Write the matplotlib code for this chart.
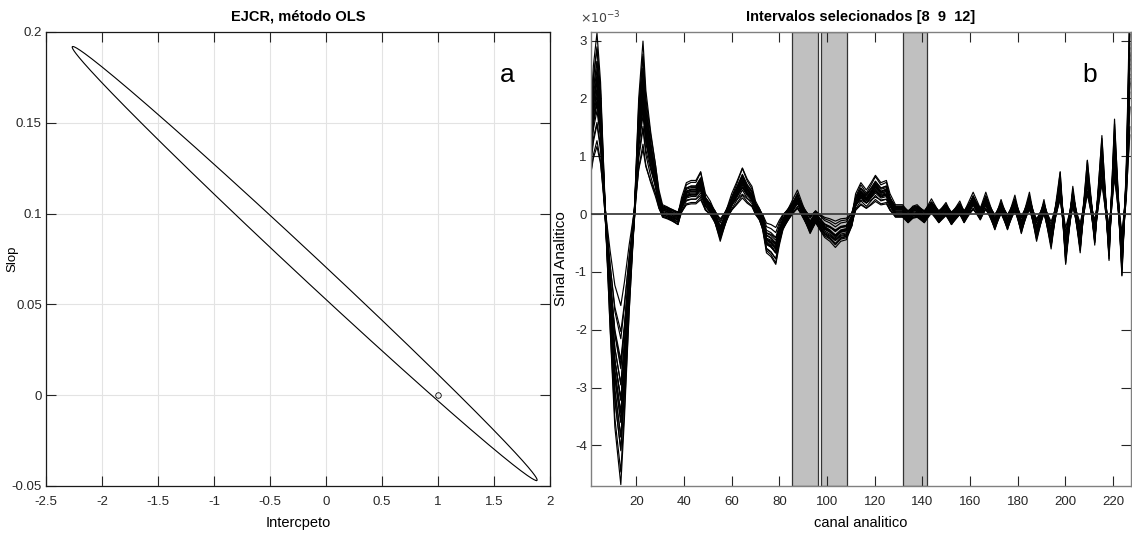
import numpy as np
import matplotlib
matplotlib.use("Agg")
import matplotlib.pyplot as plt

# ---- panel a: EJCR ellipse (OLS) ----
ellipse_center = (-0.19, 0.0725)
ellipse_tip = (1.88, -0.047)
ellipse_halfwidth = 0.155         # horizontal half-width through centre
ideal_point = (1.0, 0.0)
a_xticks = [-2.5, -2, -1.5, -1, -0.5, 0, 0.5, 1, 1.5, 2]
a_yticks = [-0.05, 0, 0.05, 0.1, 0.15, 0.2]

# ---- panel b: spectra (x1e-3) ----
channels = [1, 2, 3.5, 5, 7, 9, 11, 13.5, 15, 17, 19.2, 21, 22.8, 24, 26, 28,
            29.5, 31, 33, 35, 37.5, 39, 41, 43, 45, 47, 49, 51, 53, 55.2, 58,
            60, 62, 64.5, 66.5, 68.5, 70, 71.6, 73, 74.6, 76.5, 78.5, 80, 81.5,
            83.8, 85.3, 87.6, 89.8, 92.9, 95.2, 97, 99, 101.2, 103.5, 105.8,
            108.1, 110.4, 112, 114.2, 116.5, 118.5, 120.3, 122.6, 124.9, 126.4,
            128.7, 131.7, 134, 136, 137.8, 140.8, 143.8, 146.9, 149.9, 152.2,
            155.7, 157.5, 161.3, 164.3, 166.6, 170.4, 173, 175.7, 178.8, 181.5,
            184.9, 187.9, 191, 194, 197.8, 200.1, 203.1, 206.2, 209.2, 212.3,
            215.3, 218.3, 220.6, 223.7, 225.5, 227]
mean_signal = [1.3, 1.8, 2.2, 1.6, 0.0, -1.4, -2.6, -3.3, -2.5, -1.2, 0.0, 1.4,
               2.1, 1.5, 1.0, 0.6, 0.25, 0.05, 0.02, -0.02, -0.08, 0.15, 0.35,
               0.38, 0.38, 0.5, 0.2, 0.1, -0.05, -0.3, 0.0, 0.2, 0.35, 0.55,
               0.4, 0.3, 0.1, 0.0, -0.15, -0.45, -0.5, -0.6, -0.35, -0.15, 0.0,
               0.1, 0.25, 0.05, -0.2, -0.05, -0.15, -0.25, -0.3, -0.38, -0.3,
               -0.28, -0.1, 0.2, 0.35, 0.25, 0.35, 0.45, 0.35, 0.38, 0.2, 0.05,
               0.05, -0.05, 0.03, 0.05, -0.05, 0.13, -0.05, 0.08, -0.08, 0.1,
               -0.05, 0.22, 0.0, 0.22, -0.15, 0.12, -0.15, 0.18, -0.2, 0.22,
               -0.3, 0.12, -0.4, 0.5, -0.6, 0.3, -0.45, 0.65, -0.35, 0.95,
               -0.55, 1.15, -0.75, 0.5, 2.6]
curve_scale = [0.5, 0.6, 0.68, 0.74, 0.8, 0.84, 0.88, 0.91, 0.94, 0.97, 1.0,
               1.02, 1.05, 1.08, 1.11, 1.14, 1.18, 1.22, 1.27, 1.33, 1.42]
curve_offset = [0.07, -0.05, 0.09, -0.08, 0.03, 0.1, -0.03, 0.05, -0.1, 0.0,
                0.08, -0.06, 0.02, -0.02, 0.06, -0.09, 0.04, -0.04, 0.1, -0.07,
                0.01]
intervals = [(85.5, 96.2), (97.5, 108.3), (132.0, 142.0)]
b_xticks = [20, 40, 60, 80, 100, 120, 140, 160, 180, 200, 220]
b_yticks = [-4, -3, -2, -1, 0, 1, 2, 3]

plt.rcParams["font.family"] = ["Liberation Sans", "DejaVu Sans"]
plt.rcParams["axes.unicode_minus"] = False

fig = plt.figure(figsize=(11.32, 5.41), dpi=100)
ax1 = fig.add_axes([0.0406, 0.1017, 0.4452, 0.8392])
ax2 = fig.add_axes([0.5221, 0.1017, 0.4770, 0.8392])

# --- panel a ---
cx, cy = ellipse_center
ax_vec = np.array(ellipse_tip) - np.array(ellipse_center)
t = np.linspace(0, 2 * np.pi, 600)
ex = cx + ax_vec[0] * np.cos(t) + ellipse_halfwidth * np.sin(t)
ey = cy + ax_vec[1] * np.cos(t)
ax1.plot(ex, ey, color="black", linewidth=0.8)
ax1.plot(*ideal_point, marker="o", markersize=4, markerfacecolor="none",
         markeredgecolor="black", markeredgewidth=0.6)
ax1.set_xlim(-2.5, 2)
ax1.set_ylim(-0.05, 0.2)
ax1.set_xticks(a_xticks)
ax1.set_yticks(a_yticks)
ax1.set_xticklabels(["%g" % v for v in a_xticks])
ax1.set_yticklabels(["%g" % v for v in a_yticks])
ax1.grid(True, color="#e3e3e3", linewidth=0.8)
ax1.tick_params(direction="in", top=True, right=True, length=7.5, width=0.8,
                labelsize=9.5, colors="#262626", pad=3)
ax1.tick_params(axis="x", pad=7)
for s in ax1.spines.values():
    s.set_color("#1a1a1a")
    s.set_linewidth(0.9)
ax1.set_title("EJCR, método OLS", fontsize=10.5, fontweight="bold", pad=8)
ax1.set_xlabel("Intercpeto", fontsize=10.5, labelpad=6)
ax1.set_ylabel("Slop", fontsize=9.5)
ax1.yaxis.set_label_coords(-0.055, 0.5)
ax1.text(0.915, 0.905, "a", transform=ax1.transAxes, fontsize=19,
         ha="center", va="center")

# --- panel b ---
for lo, hi in intervals:
    ax2.axvspan(lo, hi, facecolor="#c0c0c0", edgecolor="#333333",
                linewidth=0.9, zorder=1)
ax2.axhline(0, color="#404040", linewidth=1.3, zorder=3)
prof = np.array(mean_signal)
for k, off in zip(curve_scale, curve_offset):
    ax2.plot(channels, prof * k + off, color="black", linewidth=0.85, zorder=2)
ax2.set_xlim(1, 227.5)
ax2.set_ylim(-4.7, 3.15)
ax2.set_xticks(b_xticks)
ax2.set_yticks(b_yticks)
ax2.tick_params(direction="in", top=True, right=True, length=7.5, width=0.8,
                labelsize=9.5, colors="#262626", pad=3)
ax2.tick_params(axis="x", pad=7)
for s in ax2.spines.values():
    s.set_color("#808080")
    s.set_linewidth(1.0)
ax2.set_title("Intervalos selecionados [8  9  12]", fontsize=10.5,
              fontweight="bold", pad=8)
ax2.set_xlabel("canal analitico", fontsize=10.5, labelpad=6)
ax2.set_ylabel("Sinal Analitico", fontsize=11)
ax2.yaxis.set_label_coords(-0.042, 0.5)
ax2.text(-0.02, 1.012, r"$\times10^{-3}$", transform=ax2.transAxes,
         fontsize=9, color="#404040", ha="left", va="bottom")
ax2.text(0.924, 0.905, "b", transform=ax2.transAxes, fontsize=19,
         ha="center", va="center")

fig.savefig("out.png", dpi=100)
